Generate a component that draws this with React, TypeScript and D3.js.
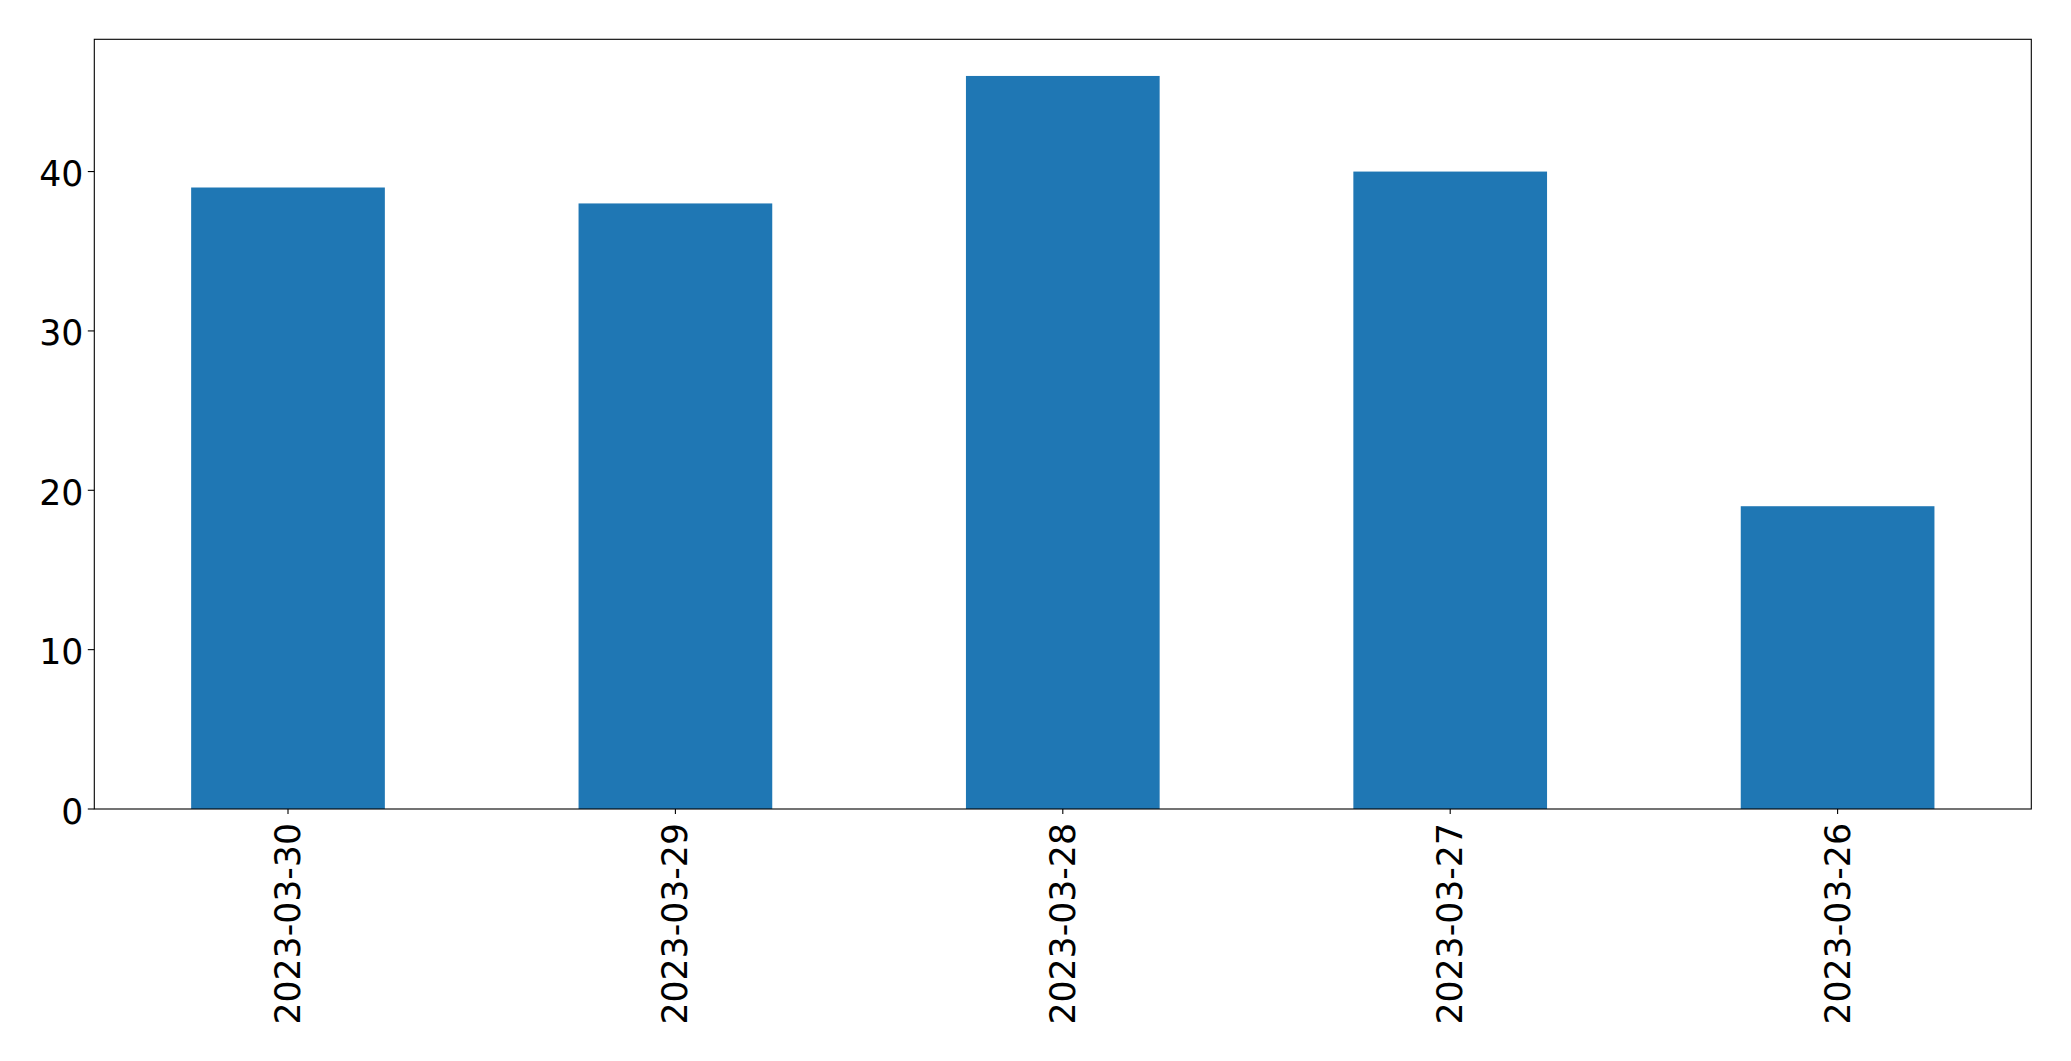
import React from "react";
import * as d3 from "d3";

const categories = ["2023-03-30", "2023-03-29", "2023-03-28", "2023-03-27", "2023-03-26"];
const values = [39, 38, 46, 40, 19];
const yTicks = [0, 10, 20, 30, 40];

const W = 2071;
const H = 1061;
const left = 94.3;
const right = 2031.3;
const top = 39.3;
const bottom = 809;
const fontSize = 34.7;
const font = "'DejaVu Sans', sans-serif";

export default function App() {
  const x = d3.scaleLinear().domain([-0.5, categories.length - 0.5]).range([left, right]);
  const y = d3.scaleLinear().domain([0, d3.max(values)! * 1.05]).range([bottom, top]);
  const barW = x(0.25) - x(-0.25);
  return (
    <svg width={W} height={H} style={{ position: "absolute", left: 0, top: 0, background: "#fff" }}>
      <rect x={0} y={0} width={W} height={H} fill="#fff" />
      {values.map((v, i) => (
        <rect key={i} x={x(i) - barW / 2} y={y(v)} width={barW} height={y(0) - y(v)} fill="#1f77b4" />
      ))}
      <rect x={left} y={top} width={right - left} height={bottom - top} fill="none" stroke="#000" strokeWidth={1.1} />
      {yTicks.map((t) => (
        <g key={t}>
          <line x1={left - 6.5} x2={left} y1={y(t)} y2={y(t)} stroke="#000" strokeWidth={1.1} />
          <text x={left - 11} y={y(t) + 14.5} textAnchor="end" fontFamily={font} fontSize={fontSize} fill="#000">
            {t}
          </text>
        </g>
      ))}
      {categories.map((c, i) => (
        <g key={c}>
          <line x1={x(i)} x2={x(i)} y1={bottom} y2={bottom + 5} stroke="#000" strokeWidth={1.1} />
          <text
            transform={`translate(${x(i)},${bottom + 14}) rotate(-90)`}
            textAnchor="end"
            dominantBaseline="central"
            fontFamily={font}
            fontSize={fontSize}
            fill="#000"
          >
            {c}
          </text>
        </g>
      ))}
    </svg>
  );
}
